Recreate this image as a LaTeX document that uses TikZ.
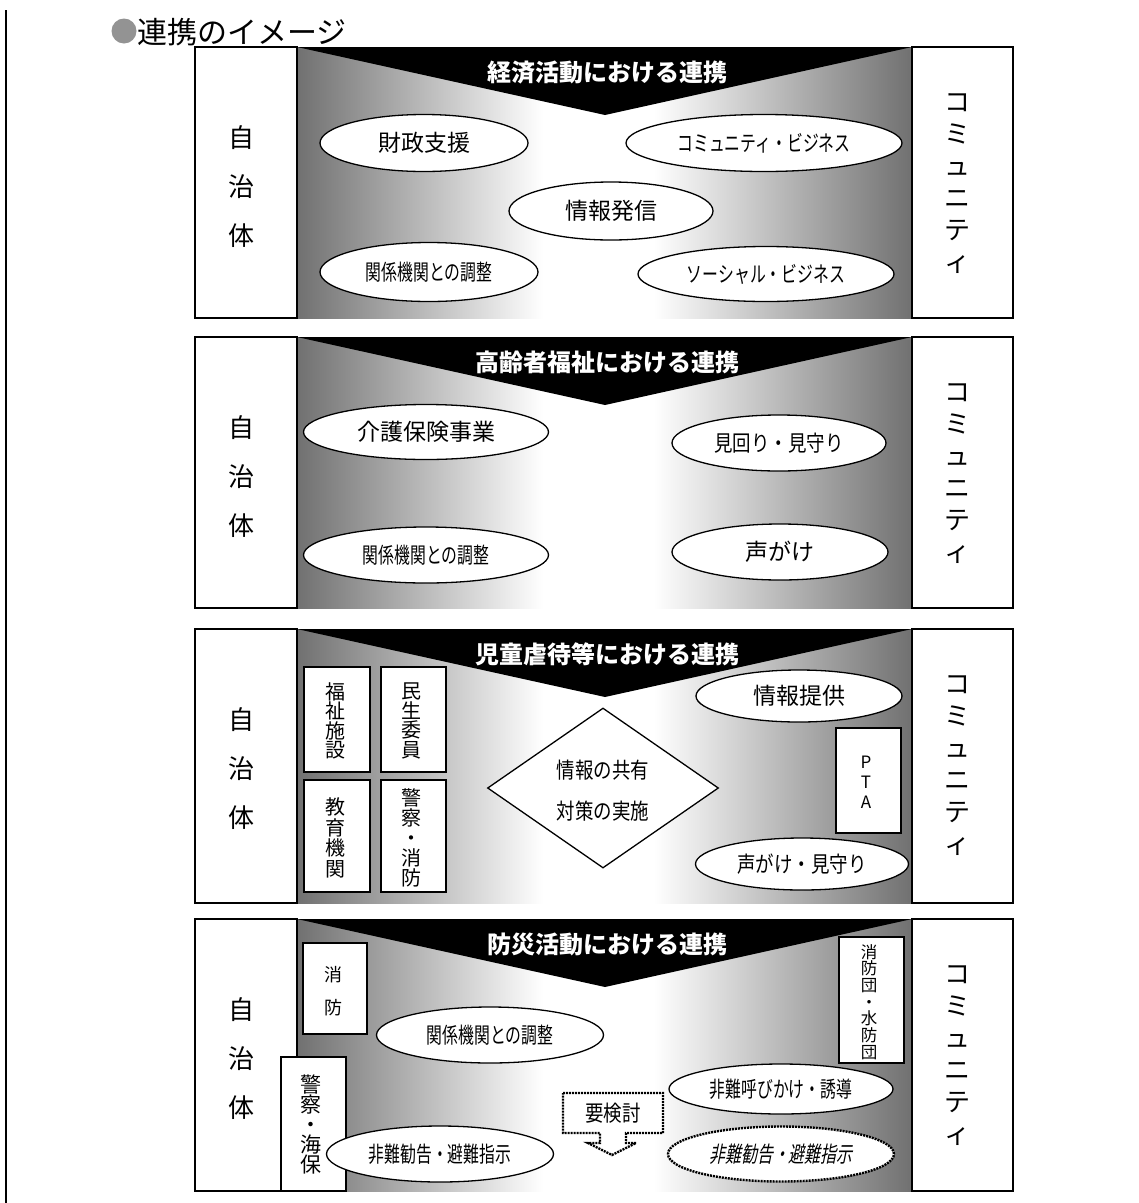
\documentclass[tikz,border=0pt]{standalone}
\usepackage{fontspec}
\setmainfont{Noto Sans CJK JP}
\newfontfamily\cjkc[FakeStretch=0.72]{Noto Sans CJK JP}
\newfontfamily\cjkm[FakeStretch=0.84]{Noto Sans CJK JP}
\newfontfamily\cjki[FakeStretch=0.72,FakeSlant=0.2]{Noto Sans CJK JP}
\usetikzlibrary{shapes.geometric}
\definecolor{pg}{gray}{0.44}
\pgfdeclarehorizontalshading{panelsh}{100bp}{color(0bp)=(pg); color(25bp)=(pg); color(45bp)=(white); color(54bp)=(white); color(75bp)=(pg); color(100bp)=(pg)}
\newcommand\fn{\fontsize{23}{23}\selectfont}
\newcommand\fc{\cjkc\fontsize{22}{22}\selectfont}
\newcommand\fm{\cjkm\fontsize{22}{22}\selectfont}
\newcommand\fci{\cjki\fontsize{22}{22}\selectfont}
\tikzset{
  sidebox/.style={draw, fill=white, line width=1.4pt, inner sep=0pt, rectangle},
  smallbox/.style={draw, fill=white, line width=1.4pt, inner sep=0pt, rectangle},
  sidetxt/.style={align=center, inner sep=0pt},
  bannertxt/.style={text=white, font=\bfseries\fontsize{24}{24}\selectfont, inner sep=0pt},
  ell/.style={ellipse, draw, fill=white, line width=1.3pt, inner sep=0pt},
  dotline/.style={line width=2.4pt, draw=black, dash pattern=on 2pt off 1pt},
}
\newcommand\mypanel[4]{%
  \shade[shading=panelsh] (297,#2) rectangle (912,#3);
  \fill[black] (297,#2) -- (912,#2) -- (605,{#2+68}) -- cycle;
  \node[bannertxt] (ban#1) at (607,{#2+25}) {#4};
  \node[sidebox, minimum width=102pt, minimum height={(#3-#2)*1pt}] (left#1) at (246,{(#2+#3)/2}) {};
  \node[sidebox, minimum width=101pt, minimum height={(#3-#2)*1pt}] (right#1) at (962.5,{(#2+#3)/2}) {};
  \node[sidetxt, font=\fontsize{26}{49}\selectfont] (lt#1) at (241,{#2+140}) {自\\治\\体};
  \node[sidetxt, font=\fontsize{26}{32}\selectfont] (rt#1) at (957,{#2+137}) {コ\\ミ\\ュ\\ニ\\テ\\ィ};
}
\begin{document}
\begin{tikzpicture}[x=1pt,y=-1pt]
\useasboundingbox (0,0) rectangle (1139,1203);
\fill[white] (0,0) rectangle (1139,1203);
% left rule
\draw[line width=2pt] (6,10) -- (6,1203);
% title
\node[circle, fill=gray!85!white, minimum size=25pt, inner sep=0pt] (dot) at (124,31) {};
\node[anchor=west, inner sep=0pt, font=\fontsize{30}{30}\selectfont] (title) at (137,32) {連携のイメージ};

% ---------- panel 1
\mypanel{1}{47}{318}{経済活動における連携}
\node[ell, minimum width=208pt, minimum height=57pt, font=\fn] (p1a) at (424,143) {財政支援};
\node[ell, minimum width=276pt, minimum height=57pt, font=\fc] (p1b) at (764,143) {コミュニティ・ビジネス};
\node[ell, minimum width=204pt, minimum height=58pt, font=\fn] (p1c) at (611,211) {情報発信};
\node[ell, minimum width=218pt, minimum height=59pt, font=\fc] (p1d) at (429,272) {関係機関との調整};
\node[ell, minimum width=256pt, minimum height=55pt, font=\fc] (p1e) at (766,274) {ソーシャル・ビジネス};

% ---------- panel 2
\mypanel{2}{337}{608}{高齢者福祉における連携}
\node[ell, minimum width=245pt, minimum height=55pt, font=\fn] (p2a) at (426,432) {介護保険事業};
\node[ell, minimum width=245pt, minimum height=56pt, font=\fc] (p2b) at (426,555) {関係機関との調整};
\node[ell, minimum width=214pt, minimum height=56pt, font=\fm] (p2c) at (779,443) {見回り・見守り};
\node[ell, minimum width=216pt, minimum height=56pt, font=\fn] (p2d) at (780,552) {声がけ};

% ---------- panel 3
\mypanel{3}{629}{903}{児童虐待等における連携}
\node[smallbox, minimum width=66pt, minimum height=105pt] (p3b1) at (337,719.5) {};
\node[sidetxt, font=\fontsize{20}{19.5}\selectfont] (p3t1) at (335,721) {福\\祉\\施\\設};
\node[smallbox, minimum width=65pt, minimum height=105pt] (p3b2) at (413.5,719.5) {};
\node[sidetxt, font=\fontsize{20}{19.5}\selectfont] (p3t2) at (411,721) {民\\生\\委\\員};
\node[smallbox, minimum width=66pt, minimum height=112pt] (p3b3) at (337,836) {};
\node[sidetxt, font=\fontsize{20}{20.5}\selectfont] (p3t3) at (335,838) {教\\育\\機\\関};
\node[smallbox, minimum width=65pt, minimum height=112pt] (p3b4) at (413.5,836) {};
\node[sidetxt, font=\fontsize{20}{20}\selectfont] (p3t4) at (411,838) {警\\察\\・\\消\\防};
\node[diamond, draw, fill=white, line width=1.3pt, inner sep=0pt, minimum width=231pt, minimum height=160pt] (p3d) at (603,788) {};
\node[sidetxt, font=\fm, text height=16pt, text depth=4pt] (p3dt1) at (603,772) {情報の共有};
\node[sidetxt, font=\fm, text height=16pt, text depth=4pt] (p3dt2) at (603,813) {対策の実施};
\node[ell, minimum width=206pt, minimum height=52pt, font=\fn] (p3e1) at (799,696) {情報提供};
\node[smallbox, minimum width=65pt, minimum height=105pt] (p3pta) at (868.5,780.5) {};
\node[sidetxt, font=\fontsize{17}{20}\selectfont] (p3ptat) at (866,782) {P\\T\\A};
\node[ell, minimum width=213pt, minimum height=52pt, font=\fm] (p3e2) at (802,864) {声がけ・見守り};

% ---------- panel 4
\mypanel{4}{919}{1191}{防災活動における連携}
\node[smallbox, minimum width=64pt, minimum height=91pt] (p4b1) at (335,988.5) {};
\node[sidetxt, font=\fontsize{18}{33}\selectfont] (p4t1) at (333,991) {消\\防};
\node[smallbox, minimum width=65pt, minimum height=134pt] (p4b2) at (313.5,1124) {};
\node[sidetxt, font=\fontsize{21}{20}\selectfont] (p4t2) at (311,1124) {警\\察\\・\\海\\保};
\node[ell, minimum width=227pt, minimum height=56pt, font=\fc] (p4a) at (490,1035) {関係機関との調整};
\node[ell, minimum width=227pt, minimum height=56pt, font=\fc] (p4b) at (440,1154) {非難勧告・避難指示};
\node[smallbox, minimum width=65pt, minimum height=126pt] (p4b3) at (871.5,1000) {};
\node[sidetxt, font=\fontsize{16.5}{16.7}\selectfont] (p4t3) at (869,1002) {消\\防\\団\\・\\水\\防\\団};
\node[ell, minimum width=224pt, minimum height=50pt, font=\fc] (p4c) at (781,1089) {非難呼びかけ・誘導};
\node[ellipse, dotline, fill=white, inner sep=0pt, minimum width=226pt, minimum height=55pt, font=\fci] (p4d) at (781,1154) {非難勧告・避難指示};
% callout 要検討
\draw[dotline, fill=white] (563,1093) -- (663,1093) -- (663,1133) -- (626,1133) -- (626,1143) -- (636,1143) -- (612,1155) -- (588,1143) -- (600,1143) -- (600,1133) -- (563,1133) -- cycle;
\node[sidetxt, font=\fm] (p4k) at (613,1113) {要検討};
\end{tikzpicture}
\end{document}
